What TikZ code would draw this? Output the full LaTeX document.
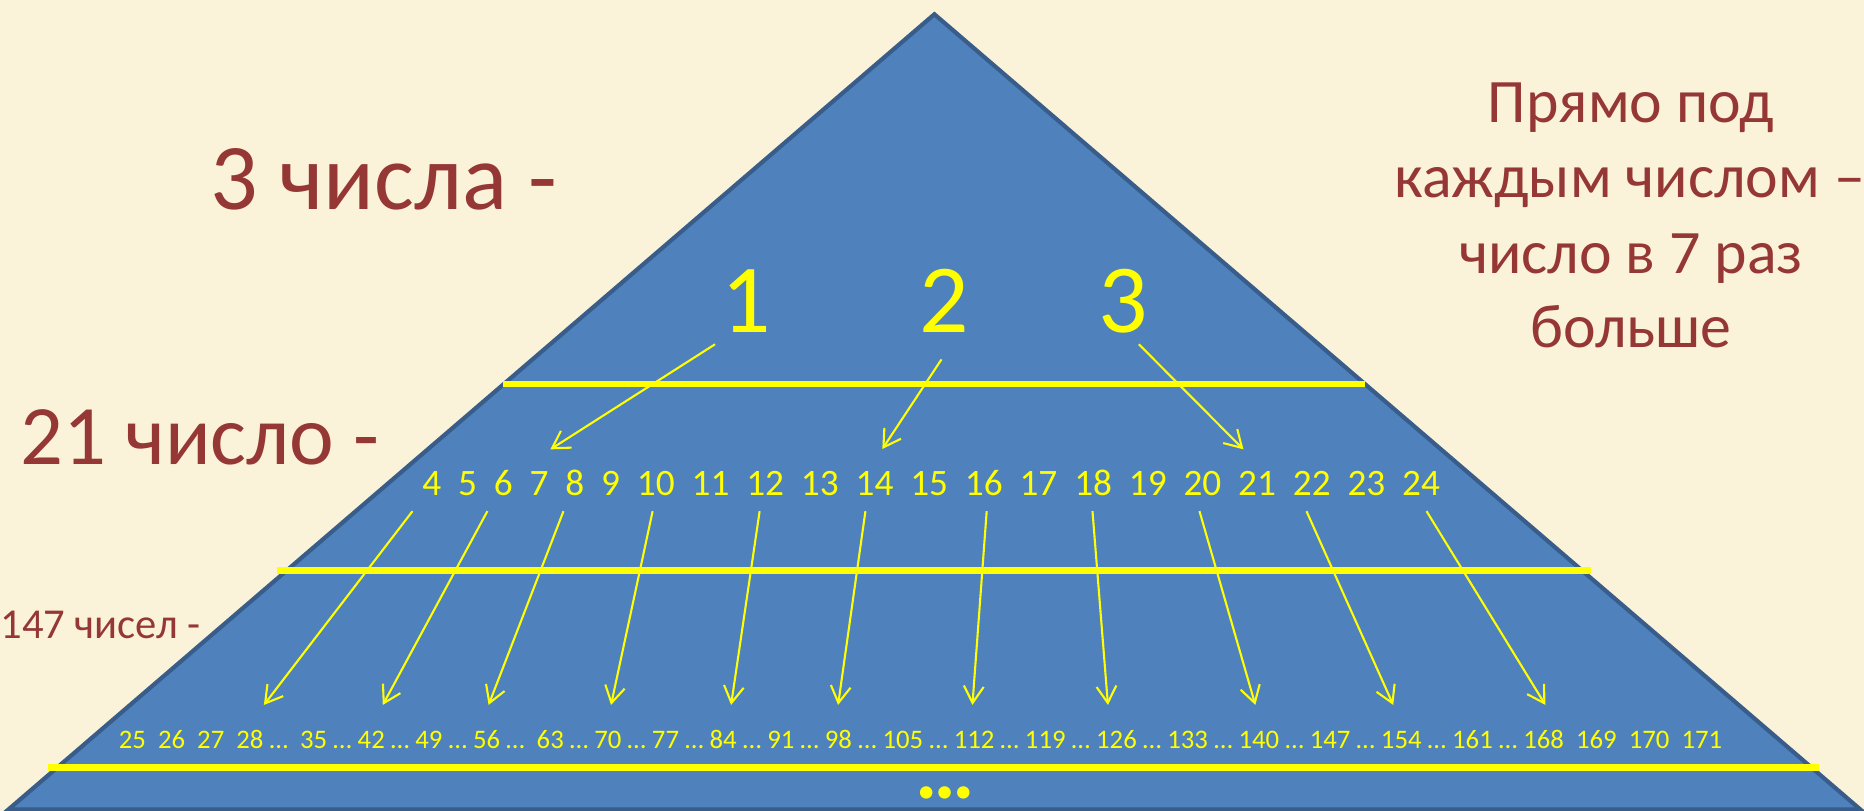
\documentclass[tikz,border=0pt]{standalone}
\usepackage{fontspec}
\setmainfont{Carlito}
\usetikzlibrary{arrows.meta}
\definecolor{bg}{RGB}{251,242,218}
\definecolor{tri}{RGB}{79,129,189}
\definecolor{triedge}{RGB}{56,93,138}
\definecolor{lbl}{RGB}{149,55,53}
\definecolor{yel}{RGB}{255,255,0}
\tikzset{
  ybar/.style={draw=yel, line width=3.2pt},
  yarrow/.style={draw=yel, line width=1pt, -{Straight Barb[length=8pt,width=9.5pt,line width=1pt]}},
  lbltext/.style={text=lbl, inner sep=0pt, anchor=base west},
  rtext/.style={text=lbl, inner sep=0pt, anchor=base, font=\fontsize{29.6}{36}\selectfont},
  ytext/.style={text=yel, inner sep=0pt},
  bigdigit/.style={ytext, anchor=base, font=\fontsize{46.7}{56}\selectfont},
}
\begin{document}
\begin{tikzpicture}[x=0.02cm,y=-0.02cm]
\fill[bg] (0,0) rectangle (1568,682);
\useasboundingbox (0,0) rectangle (1568,682);
\begin{scope}
\clip (0,0) rectangle (1568,682);
\draw[triedge, fill=tri, line width=2pt, line join=miter] (786,12) -- (1565,681) -- (7,681) -- cycle;
\end{scope}

% yellow separators
\draw[ybar] (423,323) -- (1148,323);
\draw[ybar] (233,480) -- (1338,480);
\draw[ybar] (40,645.5) -- (1530,645.5);

% left labels
\node[lbltext, font=\fontsize{45}{54}\selectfont] (t3) at (177,176) {3 числа -};
\node[lbltext, font=\fontsize{40.5}{48}\selectfont] (t21) at (17,391) {21 число -};
\node[lbltext, font=\fontsize{20.4}{24}\selectfont] (t147) at (0,537) {147 чисел -};

% right text
\node[rtext] (r1) at (1372,102.9) {Прямо под};
\node[rtext] (r2) at (1371,166.3) {каждым числом –};
\node[rtext] (r3) at (1372,229.9) {число в 7 раз};
\node[rtext] (r4) at (1372,292.2) {больше};

% top numbers
\node[bigdigit] (n1) at (628,279.8) {1};
\node[bigdigit] (n2) at (794.5,279.8) {2};
\node[bigdigit] (n3) at (944.5,279.8) {3};

% middle row
\node[ytext, anchor=base west, font=\fontsize{17.85}{21}\selectfont] (mid) at (355,417)
 {4\ \ 5\ \ 6\ \ 7\ \ 8\ \ 9\ \ 10\ \ 11\ \ 12\ \ 13\ \ 14\ \ 15\ \ 16\ \ 17\ \ 18\ \ 19\ \ 20\ \ 21\ \ 22\ \ 23\ \ 24};

% bottom row
\node[ytext, anchor=base west, font=\fontsize{12.8}{15}\selectfont] (bot) at (99.6,630)
 {25\ \ 26\ \ 27\ \ 28 …\ \ 35 … 42 … 49 … 56 …\ \ 63 … 70 … 77 … 84 … 91 … 98 … 105 … 112 … 119 … 126 … 133 … 140 … 147 … 154 … 161 … 168\ \ 169\ \ 170\ \ 171};

% continuation dots
\node[ytext, anchor=base, font=\fontsize{40}{44}\bfseries\selectfont] (dots) at (795,672) {…};

% top arrows
\coordinate (a1s) at (601.5,289.6); \coordinate (a1e) at (463,378);
\coordinate (a2s) at (792,302.3);   \coordinate (a2e) at (742.2,377.7);
\coordinate (a3s) at (958,289.6);   \coordinate (a3e) at (1046,378);
\draw[yarrow] (a1s) -- (a1e);
\draw[yarrow] (a2s) -- (a2e);
\draw[yarrow] (a3s) -- (a3e);

% lower arrows
\foreach \i/\sx/\ex in {1/347/222, 2/410/322, 3/474/411, 4/549/514, 5/639/615, 6/728/705, 7/830/818, 8/919/932, 9/1009/1056, 10/1099/1172, 11/1200/1300}{
  \coordinate (s\i) at (\sx,430);
  \coordinate (e\i) at (\ex,593);
  \draw[yarrow] (s\i) -- (e\i);
}
\end{tikzpicture}
\end{document}
